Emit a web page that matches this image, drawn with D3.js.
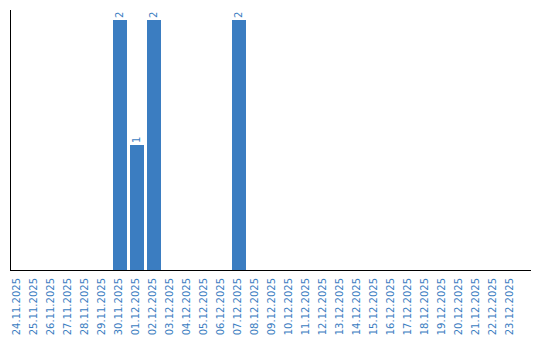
<!DOCTYPE html>
<html><head><meta charset="utf-8">
<script src="https://cdn.jsdelivr.net/npm/d3@7"></script>
<style>body{margin:0;background:#fff}svg{display:block}</style>
</head><body>
<script>
const categories = ["24.11.2025","25.11.2025","26.11.2025","27.11.2025","28.11.2025","29.11.2025","30.11.2025","01.12.2025","02.12.2025","03.12.2025","04.12.2025","05.12.2025","06.12.2025","07.12.2025","08.12.2025","09.12.2025","10.12.2025","11.12.2025","12.12.2025","13.12.2025","14.12.2025","15.12.2025","16.12.2025","17.12.2025","18.12.2025","19.12.2025","20.12.2025","21.12.2025","22.12.2025","23.12.2025"];
const values = [0,0,0,0,0,0,2,1,2,0,0,0,0,2,0,0,0,0,0,0,0,0,0,0,0,0,0,0,0,0];

const W = 540, H = 340, color = "#3b7dc1";
const svg = d3.select("body").append("svg").attr("width", W).attr("height", H);
const x = d3.scaleBand().domain(categories).range([11, 518]).paddingInner(3/17).paddingOuter(0);
const y = d3.scaleLinear().domain([0, 2]).range([270, 20]);

svg.selectAll("rect.bar").data(values).join("rect").attr("class","bar")
  .attr("x", (d,i) => x(categories[i])).attr("width", x.bandwidth())
  .attr("y", d => y(d)).attr("height", d => y(0) - y(d)).attr("fill", color);

svg.selectAll("text.val").data(values.map((v,i)=>({v,i})).filter(d=>d.v>0)).join("text").attr("class","val")
  .attr("transform", d => `translate(${x(categories[d.i]) + x.bandwidth()/2 - 0.5},${y(d.v) - 2}) rotate(-90)`)
  .attr("dy","0.35em").attr("text-anchor","start")
  .attr("font-family","DejaVu Sans").attr("font-size","10px").attr("fill", color)
  .text(d => d.v);

const xAxis = svg.append("g").attr("transform","translate(0,270)")
  .call(d3.axisBottom(x).tickSize(0).tickPadding(0));
xAxis.select(".domain").remove();
xAxis.selectAll("text")
  .attr("transform", "translate(-1.5,8) rotate(-90)")
  .attr("x", 0).attr("y", 0).attr("dy","0.35em")
  .attr("text-anchor","end")
  .attr("font-family","DejaVu Sans").attr("font-size","10px").attr("fill", color);

svg.append("line").attr("x1",10.5).attr("x2",10.5).attr("y1",10).attr("y2",270.5).attr("stroke","#000");
svg.append("line").attr("x1",10).attr("x2",531).attr("y1",270.5).attr("y2",270.5).attr("stroke","#000");
</script>
</body></html>
